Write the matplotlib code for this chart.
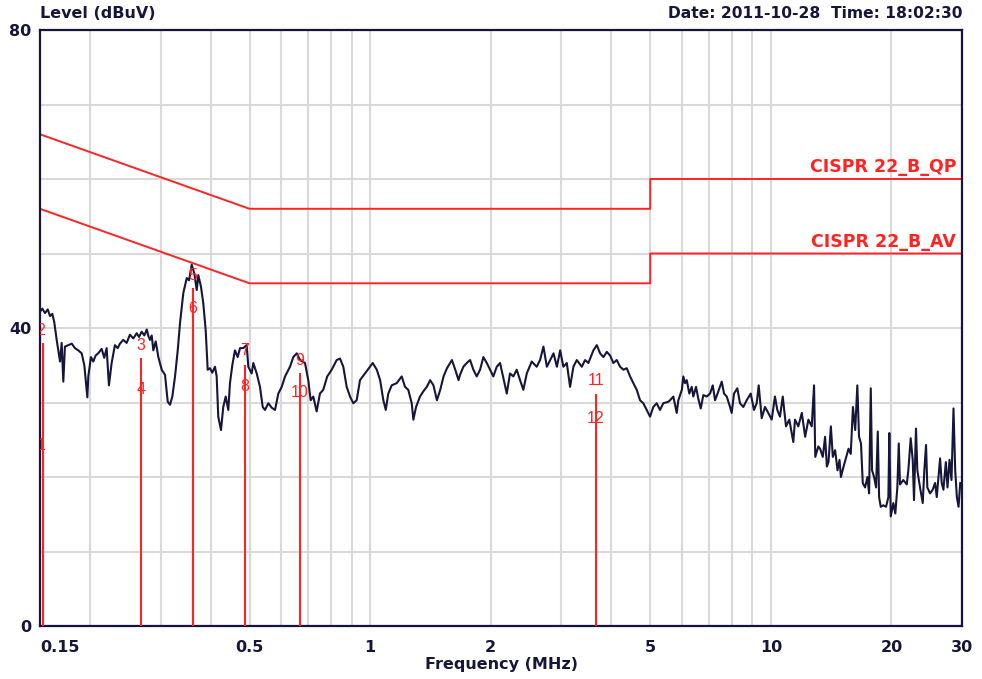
import matplotlib
matplotlib.use("Agg")
import matplotlib.pyplot as plt

plt.rcParams['font.family'] = ['Liberation Sans', 'DejaVu Sans']

trace_freq = [
    0.150, 0.152, 0.1544, 0.1568, 0.1589, 0.161, 0.1628, 0.1651, 0.1666, 0.1683,
    0.1699, 0.1715, 0.1731, 0.1765, 0.180, 0.1834, 0.1869, 0.1906, 0.1935, 0.1954,
    0.1969, 0.198, 0.201, 0.2037, 0.2065, 0.2096, 0.2138, 0.217, 0.220, 0.2229,
    0.2264, 0.2307, 0.2344, 0.2375, 0.242, 0.2468, 0.2515, 0.2564, 0.2615, 0.265,
    0.2691, 0.2732, 0.2771, 0.2797, 0.2823, 0.285, 0.2877, 0.2917, 0.2961, 0.3019,
    0.3077, 0.3125, 0.3166, 0.3209, 0.3259, 0.331, 0.3353, 0.3418, 0.3486, 0.3532,
    0.3587, 0.3642, 0.3692, 0.3726, 0.3784, 0.3834, 0.3887, 0.3932, 0.3984, 0.4037,
    0.410, 0.414, 0.4178, 0.4244, 0.430, 0.436, 0.4426, 0.4469, 0.4529, 0.4599,
    0.4672, 0.4734, 0.4825, 0.492, 0.4966, 0.5063, 0.511, 0.5211, 0.531, 0.5394,
    0.5465, 0.557, 0.568, 0.5789, 0.590, 0.6017, 0.6133, 0.631, 0.6432, 0.6558,
    0.6685, 0.6878, 0.7008, 0.7105, 0.7213, 0.7354, 0.7495, 0.7638, 0.7816, 0.8018,
    0.8252, 0.841, 0.8571, 0.8739, 0.8908, 0.9078, 0.9257, 0.9434, 0.9708, 0.9994,
    1.015, 1.039, 1.059, 1.079, 1.094, 1.110, 1.132, 1.165, 1.199, 1.222,
    1.245, 1.270, 1.282, 1.302, 1.332, 1.358, 1.385, 1.412, 1.439, 1.468,
    1.496, 1.525, 1.555, 1.600, 1.631, 1.662, 1.676, 1.709, 1.742, 1.776,
    1.810, 1.845, 1.881, 1.917, 1.955, 1.992, 2.030, 2.070, 2.110, 2.150,
    2.193, 2.234, 2.277, 2.322, 2.367, 2.412, 2.460, 2.531, 2.605, 2.655,
    2.707, 2.761, 2.814, 2.869, 2.925, 2.980, 3.036, 3.096, 3.155, 3.216,
    3.279, 3.375, 3.439, 3.505, 3.607, 3.679, 3.749, 3.821, 3.896, 3.972,
    4.046, 4.126, 4.205, 4.286, 4.370, 4.454, 4.538, 4.628, 4.717, 4.807,
    4.902, 4.996, 5.090, 5.190, 5.290, 5.391, 5.548, 5.603, 5.711, 5.823,
    5.877, 5.997, 6.048, 6.108, 6.168, 6.260, 6.347, 6.406, 6.506, 6.593,
    6.685, 6.785, 6.918, 7.053, 7.163, 7.258, 7.397, 7.542, 7.642, 7.762,
    7.911, 7.986, 8.093, 8.248, 8.377, 8.537, 8.705, 8.908, 9.078, 9.220,
    9.327, 9.489, 9.671, 9.855, 10.05, 10.24, 10.38, 10.54, 10.71, 10.91,
    11.12, 11.38, 11.49, 11.71, 11.95, 12.18, 12.41, 12.65, 12.82, 12.91,
    13.14, 13.27, 13.48, 13.66, 13.80, 13.93, 14.12, 14.28, 14.47, 14.67,
    14.84, 14.96, 15.19, 15.43, 15.63, 15.83, 16.03, 16.24, 16.44, 16.60,
    16.79, 16.96, 17.19, 17.42, 17.59, 17.76, 17.89, 18.10, 18.31, 18.49,
    18.63, 18.81, 19.09, 19.39, 19.65, 19.76, 19.92, 20.22, 20.45, 20.69,
    20.86, 21.01, 21.41, 21.84, 22.04, 22.34, 22.60, 22.77, 23.03, 23.21,
    23.57, 23.94, 24.16, 24.40, 24.58, 24.97, 25.35, 25.70, 25.95, 26.45,
    26.70, 26.96, 27.34, 27.60, 27.92, 28.24, 28.57, 28.85, 29.13, 29.41,
    29.70,
]
trace_level = [
    42.2, 42.6, 42.0, 42.5, 41.6, 41.9, 40.8, 38.4, 37.0, 35.5,
    38.0, 32.8, 37.5, 37.7, 37.9, 37.3, 37.0, 36.6, 35.0, 32.6,
    30.7, 33.5, 36.1, 35.5, 36.3, 36.6, 37.2, 36.0, 37.3, 32.3,
    35.3, 37.7, 37.3, 37.9, 38.4, 38.0, 39.1, 38.6, 39.3, 38.8,
    39.5, 39.0, 39.8, 38.9, 38.4, 39.0, 37.0, 38.2, 36.1, 34.4,
    33.7, 30.1, 29.7, 30.8, 33.5, 37.0, 40.6, 44.7, 46.7, 46.4,
    48.5, 47.3, 45.1, 47.1, 45.5, 43.3, 39.7, 34.4, 34.6, 34.0,
    34.8, 33.5, 28.1, 26.3, 29.4, 30.8, 29.0, 32.6, 35.0, 37.0,
    36.1, 37.3, 37.3, 37.7, 34.8, 33.9, 35.3, 33.9, 32.1, 29.4,
    29.0, 29.9, 29.3, 29.0, 31.2, 32.1, 33.5, 34.8, 36.1, 36.6,
    35.7, 35.3, 33.0, 30.3, 30.8, 28.8, 31.2, 31.7, 33.5, 34.4,
    35.7, 35.9, 34.8, 32.1, 30.8, 29.9, 30.3, 33.0, 33.9, 34.8,
    35.3, 34.4, 33.0, 30.3, 29.0, 31.2, 32.3, 32.6, 33.5, 32.1,
    31.7, 29.9, 27.7, 29.4, 30.8, 31.5, 32.1, 33.0, 32.3, 30.3,
    31.7, 33.5, 34.6, 35.7, 34.4, 33.0, 33.7, 34.8, 35.3, 35.7,
    34.4, 33.5, 34.4, 36.1, 35.3, 34.4, 33.5, 34.8, 35.3, 33.3,
    31.2, 33.9, 33.5, 34.4, 33.0, 31.7, 33.9, 35.5, 34.8, 35.7,
    37.5, 34.8, 35.7, 36.6, 34.8, 37.0, 34.8, 35.3, 32.1, 34.8,
    35.7, 34.8, 35.7, 35.3, 37.0, 37.7, 36.6, 36.1, 36.8, 36.3,
    35.3, 35.7, 34.8, 34.4, 34.6, 33.5, 32.6, 31.7, 30.3, 29.9,
    29.0, 28.1, 29.4, 29.9, 29.0, 29.9, 30.1, 30.3, 30.8, 28.6,
    30.3, 31.7, 33.5, 32.6, 33.0, 31.2, 32.1, 30.8, 32.1, 30.5,
    29.2, 31.0, 30.8, 31.2, 32.3, 30.3, 31.5, 32.8, 31.2, 30.8,
    29.4, 28.6, 31.2, 31.9, 29.9, 29.4, 30.3, 31.2, 29.0, 29.9,
    32.3, 27.9, 29.4, 28.6, 27.7, 30.8, 29.0, 28.1, 30.8, 26.8,
    27.7, 24.7, 27.7, 26.8, 28.6, 25.4, 27.7, 26.8, 32.3, 22.7,
    24.1, 23.8, 22.7, 25.4, 21.4, 22.0, 26.8, 22.7, 23.6, 20.9,
    22.3, 20.0, 21.4, 22.7, 23.8, 23.1, 29.4, 26.3, 32.3, 25.4,
    24.5, 19.2, 18.6, 20.0, 17.8, 31.9, 20.9, 20.0, 18.6, 26.1,
    17.3, 16.0, 16.2, 16.0, 17.3, 25.9, 14.7, 16.5, 15.1, 18.6,
    24.5, 19.0, 19.6, 19.0, 20.9, 25.2, 22.3, 16.9, 26.5, 20.9,
    18.6, 16.5, 20.9, 24.3, 18.6, 17.8, 18.3, 19.2, 17.3, 22.5,
    19.2, 18.3, 22.0, 18.6, 22.3, 19.6, 29.2, 20.9, 17.3, 16.0,
    19.2,
]

# CISPR 22 class B limits
qp_freq = [0.15, 0.5, 5, 5, 30]
qp_level = [66, 56, 56, 60, 60]
av_freq = [0.15, 0.5, 5, 5, 30]
av_level = [56, 46, 46, 50, 50]

# marker lines and labels
marker_freq = [0.1526, 0.268, 0.361, 0.487, 0.668, 3.66]
marker_top = [38.0, 36.0, 45.4, 35.0, 34.0, 31.1]
label_text = ['1', '2', '3', '4', '5', '6', '7', '8', '9', '10', '11', '12']
label_freq = [0.1509, 0.1509, 0.268, 0.268, 0.361, 0.361,
              0.487, 0.487, 0.668, 0.668, 3.66, 3.66]
label_level = [24.2, 39.7, 37.6, 31.8, 47.1, 42.6,
               37.0, 32.2, 35.7, 31.4, 33.0, 27.9]

grid_freq = [0.2, 0.3, 0.4, 0.5, 0.6, 0.7, 0.8, 0.9, 1, 2, 3, 4, 5, 6, 7, 8, 9, 10, 20]
tick_freq = [0.15, 0.5, 1, 2, 5, 10, 20, 30]
tick_text = ['0.15', '0.5', '1', '2', '5', '10', '20', '30']

NAVY = '#16163a'
RED = '#ff2424'
BOLD = dict(family='DejaVu Sans', fontweight='bold', color=NAVY)

fig = plt.figure(figsize=(9.82, 6.79), dpi=100)
ax = fig.add_axes([40/982, 1 - 626/679, 922/982, 596/679])
ax.set_xscale('log')
ax.set_xlim(0.15, 30)
ax.set_ylim(0, 80)

for f in grid_freq:
    ax.axvline(f, color='#d9d9d9', lw=1.5, zorder=0)
ax.set_yticks(range(0, 81, 10))
ax.set_yticklabels(['0', '', '', '', '40', '', '', '', '80'])
ax.yaxis.grid(True, color='#d9d9d9', lw=1.5, zorder=0)
ax.set_axisbelow(True)

ax.set_xticks(tick_freq)
ax.set_xticklabels(tick_text)
ax.xaxis.set_minor_locator(matplotlib.ticker.NullLocator())
ax.tick_params(length=0, labelsize=11.5, labelcolor=NAVY)
ax.tick_params(axis='x', pad=10)
ax.tick_params(axis='y', pad=6)
for lab in ax.get_xticklabels() + ax.get_yticklabels():
    lab.set_fontweight('bold')
    lab.set_family('DejaVu Sans')
ax.get_xticklabels()[0].set_horizontalalignment('left')

for s in ax.spines.values():
    s.set_color(NAVY)
    s.set_linewidth(1.6)

ax.plot(qp_freq, qp_level, color=RED, lw=1.4, zorder=2)
ax.plot(av_freq, av_level, color=RED, lw=1.4, zorder=2)
ax.text(29, 60.4, 'CISPR 22_B_QP', fontsize=12.5, ha='right', va='bottom',
        **{**BOLD, 'color': RED})
ax.text(29, 50.4, 'CISPR 22_B_AV', fontsize=12.5, ha='right', va='bottom',
        **{**BOLD, 'color': RED})

ax.plot(trace_freq, trace_level, color=NAVY, lw=1.5, zorder=3)

ax.vlines(marker_freq, 0, marker_top, color=RED, lw=1.5, zorder=4)
for t, f, v in zip(label_text, label_freq, label_level):
    ax.text(f, v, t, color=RED, fontsize=11.5, ha='center', va='center',
            zorder=5, clip_on=True)

fig.text(40/982, 1 - 14/679, 'Level (dBuV)', fontsize=11.5, ha='left',
         va='center', **BOLD)
fig.text(962/982, 1 - 14/679, 'Date: 2011-10-28  Time: 18:02:30', fontsize=11.2,
         ha='right', va='center', **BOLD)
fig.text(501/982, 1 - 665/679, 'Frequency (MHz)', fontsize=11.5, ha='center',
         va='center', **BOLD)

fig.savefig('out.png', dpi=100)
